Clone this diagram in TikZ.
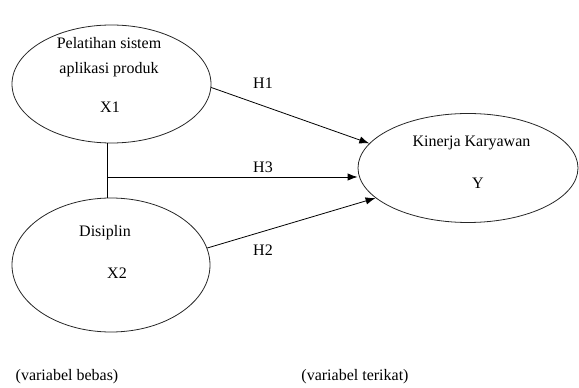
\documentclass[tikz,border=0pt]{standalone}
\usepackage{fontspec}
\setmainfont{Liberation Serif}
\usetikzlibrary{arrows.meta,positioning,shapes.geometric}

\begin{document}
\begin{tikzpicture}[x=0.75pt,y=-0.75pt,>={Latex[length=7.5pt,width=5.5pt]},font=\fontsize{12pt}{14pt}\selectfont]
\tikzstyle{var}=[draw=black!85,ellipse,thick,line width=0.6pt,inner sep=0pt]
\tikzstyle{lbl}=[inner sep=0pt]
\tikzstyle{link}=[line width=0.6pt]
\useasboundingbox (0,0) rectangle (579,388);
% variabel
\node[var,minimum width=199pt*0.75,minimum height=118pt*0.75] (x1) at (111.5,84) {};
\node[var,minimum width=198pt*0.75,minimum height=134pt*0.75] (x2) at (111,265) {};
\node[var,minimum width=220pt*0.75,minimum height=109pt*0.75] (y) at (468,168) {};
\node[lbl] (x1a) at (109,43) {Pelatihan sistem};
\node[lbl] (x1b) at (109,70) {aplikasi produk};
\node[lbl] (x1c) at (110,107) {X1};
\node[lbl] (x2a) at (105,233) {Disiplin};
\node[lbl] (x2b) at (117,273) {X2};
\node[lbl] (ya) at (471.5,143) {Kinerja Karyawan};
\node[lbl] (yb) at (478,183) {Y};
% hipotesis
\coordinate (jn) at (107,177);
\draw[link] (jn |- x1.south) -- (jn |- x2.north);
\draw[link,->] (x1.-2) -- (y.166);
\draw[link,->] (jn) -- (jn -| y.west);
\draw[link,->] (x2.10) -- (y.198);
\node[lbl] (h1) at (263,83) {H1};
\node[lbl] (h3) at (263,167) {H3};
\node[lbl] (h2) at (263,250) {H2};
\node[lbl] (bebas) at (67,377) {(variabel bebas)};
\node[lbl] (terikat) at (355,377) {(variabel terikat)};
\end{tikzpicture}
\end{document}
